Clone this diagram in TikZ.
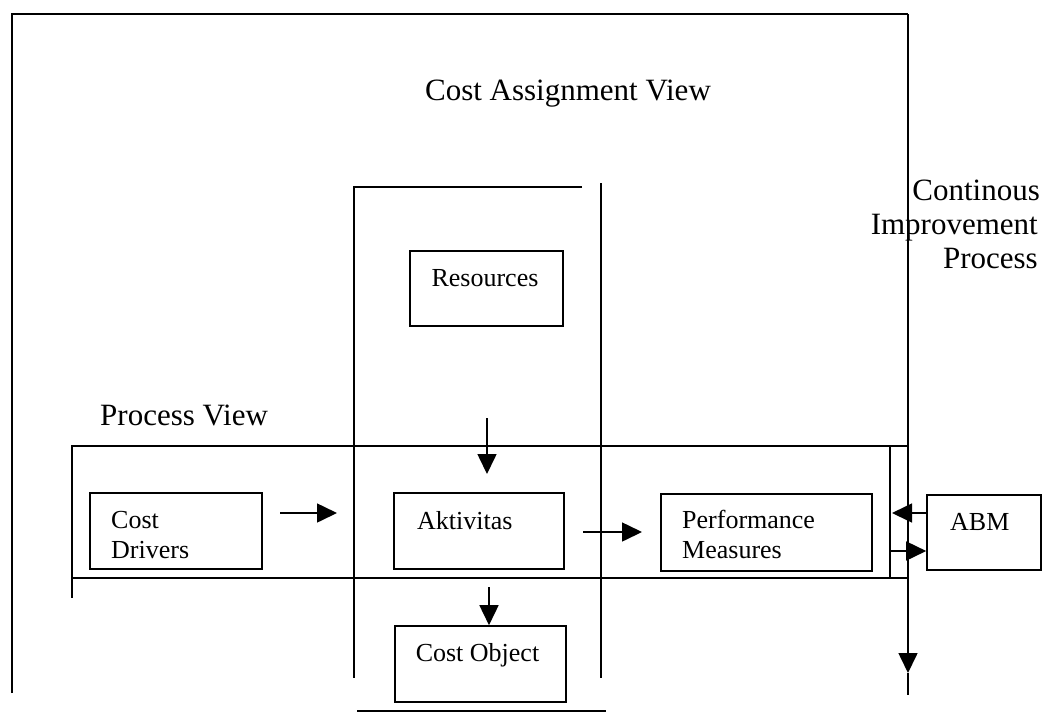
\documentclass[tikz,border=0pt]{standalone}
\usepackage{fontspec}
\setmainfont{Liberation Serif}
\usetikzlibrary{arrows.meta}
\tikzset{
  ln/.style={line width=1.6pt},
  box/.style={draw, line width=1.6pt, rectangle, inner sep=0pt},
  big/.style={font=\fontsize{31}{34}\selectfont, inner sep=0pt},
  small/.style={font=\fontsize{26}{30}\selectfont, inner sep=0pt},
  arr/.style={line width=1.6pt, -{Triangle[length=20pt,width=19pt]}},
}
\begin{document}
\begin{tikzpicture}[x=1pt,y=-1pt]
\useasboundingbox (0,0) rectangle (1042,724);
% boxes
\node[box, minimum width=172pt, minimum height=76pt] (cd) at (176,531) {};
\node[box, minimum width=170pt, minimum height=76pt] (akt) at (479,531) {};
\node[box, minimum width=211pt, minimum height=77pt] (pm) at (766.5,532.5) {};
\node[box, minimum width=114pt, minimum height=75pt] (abm) at (984,532.5) {};
\node[box, minimum width=153pt, minimum height=75pt] (res) at (486.5,288.5) {};
\node[box, minimum width=171pt, minimum height=76pt] (co) at (480.5,664) {};
% texts
\node[small, anchor=base west] (tcd1) at (111,528) {Cost};
\node[small, anchor=base west] (tcd2) at (111,558) {Drivers};
\node[small, anchor=base west] (takt) at (417,529) {Aktivitas};
\node[small, anchor=base west] (tpm1) at (682,528) {Performance};
\node[small, anchor=base west] (tpm2) at (682,558) {Measures};
\node[small, anchor=base west] (tabm) at (950,530) {ABM};
\node[small, anchor=base] (tres) at (485,286) {Resources};
\node[small, anchor=base] (tco) at (477.5,661) {Cost Object};
\node[big, anchor=base] (tcav) at (568,100) {Cost Assignment View};
\node[big, anchor=base west] (tpv) at (100,425) {Process View};
\node[big, anchor=base east] (tci1) at (1040,200) {Continous};
\node[big, anchor=base east] (tci2) at (1038,234) {Improvement};
\node[big, anchor=base east] (tci3) at (1038,268) {Process};
% outer frame
\coordinate (otl) at (12,14);
\coordinate (otr) at (908,14);
\coordinate (obl) at (12,693);
\coordinate (ortip) at (908,673);
\coordinate (orend) at (908,695);
\draw[ln] (obl) -- (otl) -- (otr);
\draw[arr] (otr) -- (ortip);
\draw[ln] (ortip) -- (orend);
% column
\coordinate (ctl) at (354,187);
\coordinate (ctr) at (582,187);
\coordinate (cbl) at (354,678);
\coordinate (crt) at (601,183);
\coordinate (crb) at (601,678);
\coordinate (cb1) at (357,711);
\coordinate (cb2) at (606,711);
\draw[ln] (ctr) -- (ctl) -- (cbl);
\draw[ln] (crt) -- (crb);
\draw[ln] (cb1) -- (cb2);
% process band
\coordinate (btl) at (72,446);
\coordinate (btr) at (908,446);
\coordinate (bbl) at (72,598);
\coordinate (bml) at (72,578);
\coordinate (bmr) at (908,578);
\coordinate (bit) at (890,446);
\coordinate (bib) at (890,578);
\draw[ln] (btr) -- (btl) -- (bbl);
\draw[ln] (bml) -- (bmr);
\draw[ln] (bit) -- (bib);
% arrows
\coordinate (a1s) at (280,513);
\coordinate (a1e) at (337,513);
\draw[arr] (a1s) -- (a1e);
\coordinate (a2s) at (583,532);
\coordinate (a2e) at (642,532);
\draw[arr] (a2s) -- (a2e);
\coordinate (a3s) at (487,418);
\coordinate (a3e) at (487,474);
\draw[arr] (a3s) -- (a3e);
\coordinate (a4s) at (489,587);
\draw[arr] (a4s) -- (co.north -| a4s);
\coordinate (a5e) at (892,513);
\draw[arr] ([yshift=19.5pt]abm.west) -- (a5e);
\coordinate (a6s) at (890,551);
\draw[arr] (a6s) -- ([yshift=-18.5pt]abm.west);
\end{tikzpicture}
\end{document}
